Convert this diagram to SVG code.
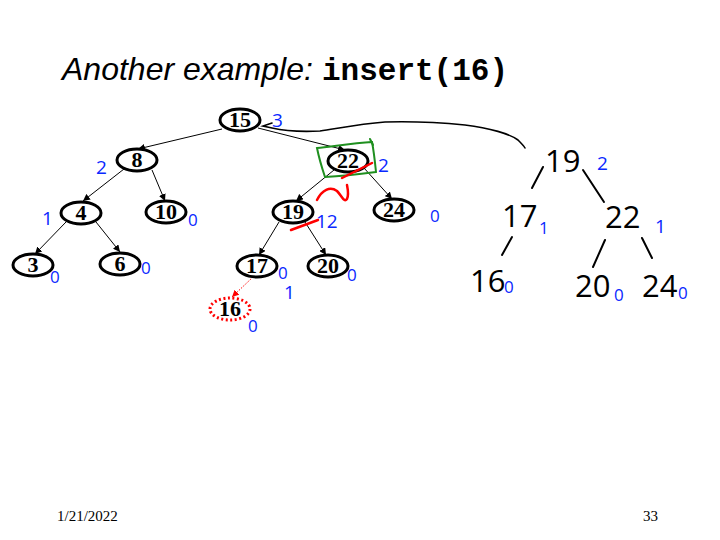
<svg xmlns="http://www.w3.org/2000/svg" width="720" height="540" viewBox="0 0 720 540">
<style>
.nd ellipse{fill:#fff;stroke:#000;stroke-width:3}
.nd text{font-family:"Liberation Serif","Times New Roman",serif;font-weight:bold;font-size:22px;text-anchor:middle}
.ed line{stroke:#000;stroke-width:1}
.bl{font-family:"Open Sans","DejaVu Sans",sans-serif;font-weight:400;fill:#0a28ff;font-size:19px}
.sm{font-size:17px}
.hw{font-family:"Open Sans","DejaVu Sans",sans-serif;font-weight:400;fill:#000;font-size:31px}
.hl line{stroke:#000;stroke-width:2;stroke-linecap:round}
</style>
<defs>
<marker id="ah" viewBox="0 0 10 10" refX="10" refY="5" markerWidth="7" markerHeight="7" orient="auto" markerUnits="userSpaceOnUse">
<path d="M0,0 L10,5 L0,10 z" fill="#000"/>
</marker>
<marker id="ahr" viewBox="0 0 10 10" refX="10" refY="5" markerWidth="7" markerHeight="7" orient="auto" markerUnits="userSpaceOnUse">
<path d="M0,0 L10,5 L0,10 z" fill="#ff0000"/>
</marker>
</defs>
<rect width="720" height="540" fill="#fff"/>
<text x="62" y="80" font-family="Liberation Sans,Arial,sans-serif" font-style="italic" font-size="32">Another example:</text>
<text x="322" y="80" font-family="Liberation Mono,Courier New,monospace" font-weight="bold" font-size="31">insert(16)</text>
<g id="connectors" class="ed">
<line x1="222" y1="129" x2="138" y2="149" marker-end="url(#ah)"/>
<line x1="258" y1="128" x2="345" y2="150" marker-end="url(#ah)"/>
<line x1="124" y1="169" x2="83" y2="201" marker-end="url(#ah)"/>
<line x1="152" y1="170" x2="165" y2="201" marker-end="url(#ah)"/>
<line x1="66" y1="222" x2="35" y2="254" marker-end="url(#ah)"/>
<line x1="96" y1="222" x2="120" y2="252" marker-end="url(#ah)"/>
<line x1="334" y1="170" x2="296" y2="201" marker-end="url(#ah)"/>
<line x1="364" y1="168" x2="392" y2="199" marker-end="url(#ah)"/>
<line x1="279" y1="222" x2="259" y2="255" marker-end="url(#ah)"/>
<line x1="305" y1="222" x2="326" y2="255" marker-end="url(#ah)"/>
<line x1="253" y1="277" x2="232" y2="297" stroke-dasharray="1.5 1.5" style="stroke:#ff0000" marker-end="url(#ahr)"/>
</g>
<g id="n15" class="nd"><ellipse cx="240" cy="120" rx="20" ry="11"/><text x="240" y="127">15</text></g>
<g id="n8" class="nd"><ellipse cx="137" cy="160" rx="20" ry="11"/><text x="137" y="167">8</text></g>
<g id="n22" class="nd"><ellipse cx="348" cy="161" rx="20" ry="11"/><text x="348" y="168">22</text></g>
<g id="n4" class="nd"><ellipse cx="81" cy="213" rx="20" ry="11"/><text x="81" y="220">4</text></g>
<g id="n10" class="nd"><ellipse cx="166" cy="212" rx="20" ry="11"/><text x="166" y="219">10</text></g>
<g id="n19" class="nd"><ellipse cx="293" cy="212" rx="20" ry="11"/><text x="293" y="219">19</text></g>
<g id="n24" class="nd"><ellipse cx="394" cy="210" rx="20" ry="11"/><text x="394" y="217">24</text></g>
<g id="n3" class="nd"><ellipse cx="33" cy="265" rx="20" ry="11"/><text x="33" y="272">3</text></g>
<g id="n6" class="nd"><ellipse cx="120" cy="264" rx="20" ry="11"/><text x="120" y="271">6</text></g>
<g id="n17" class="nd"><ellipse cx="257" cy="266" rx="20" ry="11"/><text x="257" y="273">17</text></g>
<g id="n20" class="nd"><ellipse cx="328" cy="266" rx="20" ry="11"/><text x="328" y="273">20</text></g>
<g id="n16" class="nd"><ellipse cx="230" cy="309" rx="20" ry="11" style="stroke:#ff0000;stroke-dasharray:2 2.5"/><text x="230" y="316">16</text></g>
<g id="ink-black" fill="none" stroke="#000" stroke-width="1.6" stroke-linecap="round">
<path d="M272,123 L263,126 L272,128 C285,131 300,132 320,131 C340,128 360,124 385,122 C420,121 445,123 465,125 C490,128 510,134 518,140 C522,144 524,146 525,148"/>
</g>
<g id="ink-green" fill="none" stroke="#1f8f1f" stroke-width="2" stroke-linecap="round">
<path d="M317,148 C335,146 355,143 372,142 C374,152 375,162 376,172 C360,174 342,176 325,177 C322,168 319,158 317,148 Z"/>
<path d="M370,139 L373,145"/>
</g>
<g id="ink-red" fill="none" stroke="#ff0000" stroke-width="2.5" stroke-linecap="round">
<path d="M342,178 L372,163"/>
<path d="M317,200 C322,190 330,186 337,191 C342,196 344,203 347,199 C349,195 348,190 347,185"/>
<path d="M291,230 L318,220"/>
</g>
<g id="ink-blue">
<text class="bl" x="272" y="127">3</text>
<text class="bl" x="96" y="174">2</text>
<text class="bl" x="42" y="225">1</text>
<text class="bl sm" x="188" y="226">0</text>
<text class="bl sm" x="50" y="283">0</text>
<text class="bl sm" x="141" y="274">0</text>
<text class="bl" x="378" y="172">2</text>
<text class="bl sm" x="430" y="222">0</text>
<text class="bl" x="316" y="228">12</text>
<text class="bl sm" x="278" y="279">0</text>
<text class="bl sm" x="347" y="281">0</text>
<text class="bl" x="284" y="299">1</text>
<text class="bl sm" x="248" y="332">0</text>
</g>
<g id="tree2-edges" class="hl">
<line x1="543" y1="167" x2="532" y2="188"/>
<line x1="583" y1="170" x2="604" y2="202"/>
<line x1="512" y1="237" x2="502" y2="255"/>
<line x1="605" y1="240" x2="593" y2="267"/>
<line x1="642" y1="238" x2="652" y2="258"/>
</g>
<g id="t19"><text class="hw" x="545" y="172">19</text><text class="bl" x="597" y="170">2</text></g>
<g id="t17"><text class="hw" x="502" y="227">17</text><text class="bl sm" x="539" y="234">1</text></g>
<g id="t22"><text class="hw" x="605" y="228" font-size="27">22</text><text class="bl" x="655" y="233">1</text></g>
<g id="t16"><text class="hw" x="470" y="292" font-size="29">16</text><text class="bl sm" x="504" y="293">0</text></g>
<g id="t20"><text class="hw" x="575" y="297" font-size="28">20</text><text class="bl sm" x="614" y="301">0</text></g>
<g id="t24"><text class="hw" x="642" y="297">24</text><text class="bl sm" x="678" y="299">0</text></g>
<text x="57" y="521" font-family="Liberation Serif,Times New Roman,serif" font-size="15">1/21/2022</text>
<text x="658" y="521" text-anchor="end" font-family="Liberation Serif,Times New Roman,serif" font-size="15">33</text>
</svg>
